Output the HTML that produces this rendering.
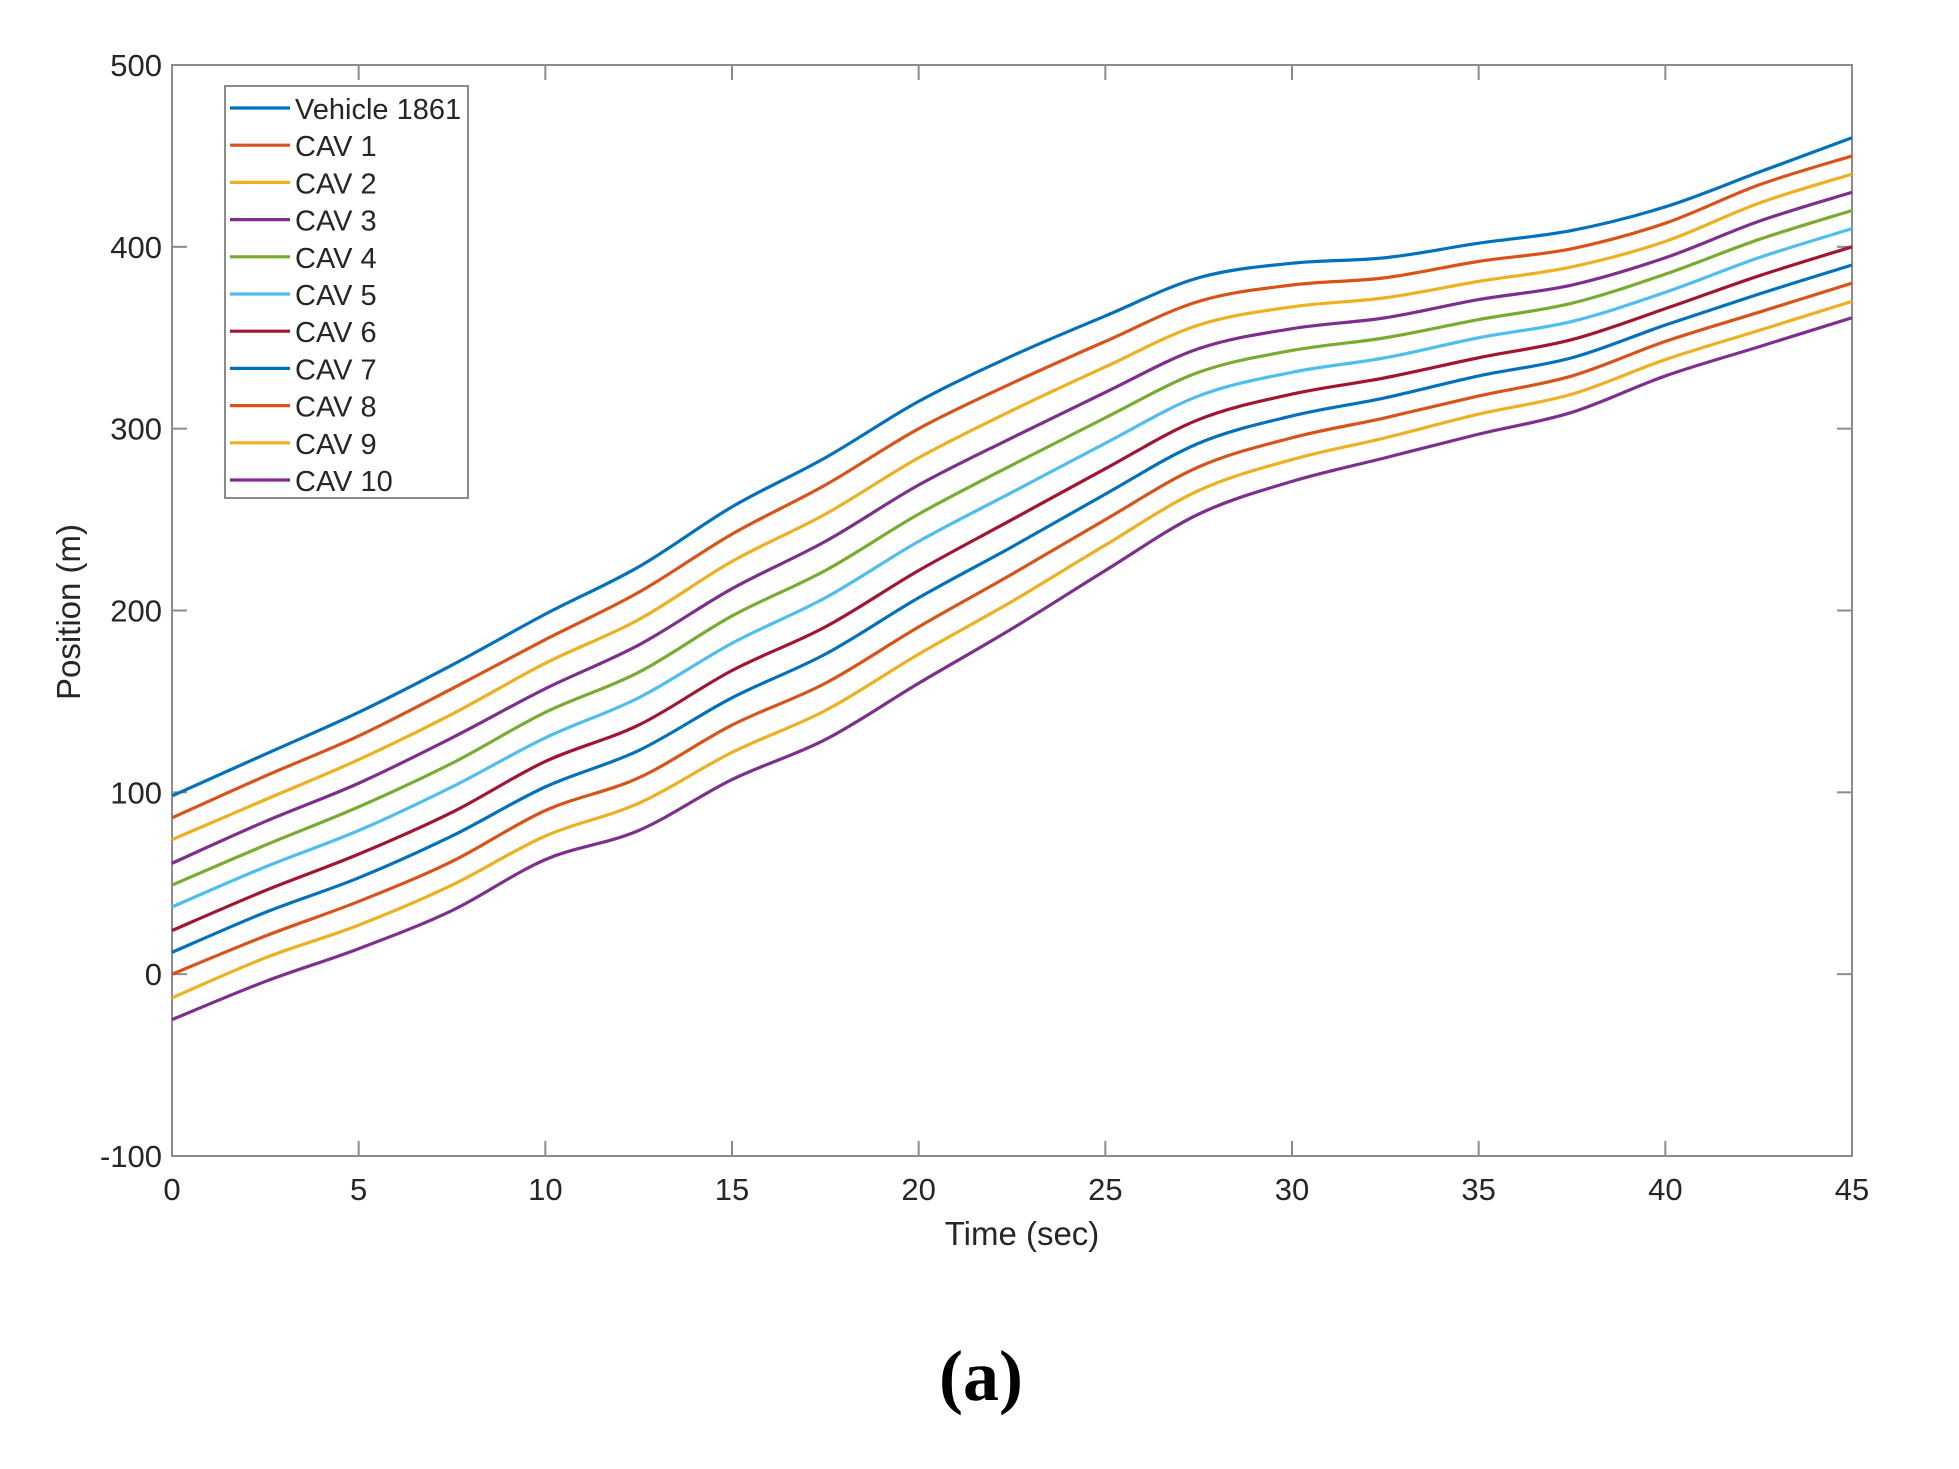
<!DOCTYPE html>
<html><head><meta charset="utf-8"><style>
body{margin:0;background:#fff;}
svg{display:block;font-family:"Liberation Sans",sans-serif;}
</style></head><body>
<svg id="chart" width="1959" height="1469" viewBox="0 0 1959 1469" xmlns="http://www.w3.org/2000/svg">
<rect x="0" y="0" width="1959" height="1469" fill="#fff"/>
<g id="grid"></g>
<g id="lines"></g>
<g id="legend"></g>
<text x="1022" y="1245" font-size="33" text-anchor="middle" fill="#262626">Time (sec)</text>
<text transform="translate(80,612) rotate(-90)" font-size="33" text-anchor="middle" fill="#262626">Position (m)</text>
<text x="981" y="1400" font-size="72" font-weight="bold" text-anchor="middle" font-family="Liberation Serif, serif" fill="#000">(a)</text>
</svg>
<script>
const times=[0,2.5,5,7.5,10,12.5,15,17.5,20,22.5,25,27.5,30,32.5,35,37.5,40,42.5,45];
const vehicle1861=[98,121,144,170,198,224,257,284,315,340,362,383,391,394,402,409,422,441,460];
const cav1=[86,109,131,157,184,210,242,269,300,325,348,370,379,383,392,399,413,434,450];
const cav2=[74,96,118,143,171,195,227,253,284,310,334,357,367,372,381,389,403,424,440];
const cav3=[61,84,105,130,157,181,212,238,269,295,320,344,355,361,371,379,394,414,430];
const cav4=[49,71,92,116,144,166,197,222,253,280,306,331,343,350,360,369,385,404,420];
const cav5=[37,59,79,103,130,152,182,207,238,265,292,318,331,339,350,359,375,394,410];
const cav6=[24,46,66,89,117,137,167,191,222,250,278,305,319,328,339,349,366,384,400];
const cav7=[12,34,53,76,103,123,152,176,207,235,264,292,307,317,329,339,357,374,390];
const cav8=[0,21,40,62,90,108,137,160,191,220,250,279,295,306,318,329,348,364,380];
const cav9=[-13,9,27,49,76,94,122,145,176,205,236,266,283,295,308,319,338,354,370];
const cav10=[-25,-4,14,35,63,79,107,129,160,190,222,253,271,284,297,309,329,345,361];
const seriesNames=["Vehicle 1861","CAV 1","CAV 2","CAV 3","CAV 4","CAV 5","CAV 6","CAV 7","CAV 8","CAV 9","CAV 10"];
const seriesData=[vehicle1861,cav1,cav2,cav3,cav4,cav5,cav6,cav7,cav8,cav9,cav10];
const xTicks=[0,5,10,15,20,25,30,35,40,45];
const yTicks=[-100,0,100,200,300,400,500];
const colors=["#0072BD","#D95319","#EDB120","#7E2F8E","#77AC30","#4DBEEE","#A2142F","#0072BD","#D95319","#EDB120","#7E2F8E"];
const L=172,R=1852,T=65,B=1156;
const xs=t=>L+(t-0)/45*(R-L);
const ys=v=>B-(v+100)/600*(B-T);
const NS="http://www.w3.org/2000/svg";
function mk(tag,attrs,parent){const e=document.createElementNS(NS,tag);for(const k in attrs)e.setAttribute(k,attrs[k]);parent.appendChild(e);return e;}
const grid=document.getElementById('grid');
const frame=mk('rect',{x:L,y:T,width:R-L,height:B-T,fill:'none',stroke:'#8c8c8c','stroke-width':2},grid);


xTicks.forEach(t=>{
  const x=xs(t);
  mk('line',{x1:x,y1:B,x2:x,y2:B-15,stroke:'#8c8c8c','stroke-width':2},grid);
  mk('line',{x1:x,y1:T,x2:x,y2:T+15,stroke:'#8c8c8c','stroke-width':2},grid);
  const tx=mk('text',{x:x,y:B+44,'font-size':31,'text-anchor':'middle',fill:'#262626'},grid);
  tx.textContent=t;
  
  
});
yTicks.forEach(v=>{
  const y=ys(v);
  mk('line',{x1:L,y1:y,x2:L+15,y2:y,stroke:'#8c8c8c','stroke-width':2},grid);
  mk('line',{x1:R,y1:y,x2:R-15,y2:y,stroke:'#8c8c8c','stroke-width':2},grid);
  const tx=mk('text',{x:L-10,y:y+11,'font-size':31,'text-anchor':'end',fill:'#262626'},grid);
  tx.textContent=v;
  
  
});
const lines=document.getElementById('lines');
seriesData.forEach((arr,i)=>{
  const pts=arr.map((v,j)=>[xs(times[j]),ys(v)]);
  let d='M'+pts[0][0]+','+pts[0][1];
  for(let j=0;j<pts.length-1;j++){
    const p0=pts[Math.max(0,j-1)],p1=pts[j],p2=pts[j+1],p3=pts[Math.min(pts.length-1,j+2)];
    const c1x=p1[0]+(p2[0]-p0[0])/6,c1y=p1[1]+(p2[1]-p0[1])/6;
    const c2x=p2[0]-(p3[0]-p1[0])/6,c2y=p2[1]-(p3[1]-p1[1])/6;
    d+=` C${c1x},${c1y} ${c2x},${c2y} ${p2[0]},${p2[1]}`;
  }
  const p=mk('path',{d:d,fill:'none',stroke:colors[i],'stroke-width':3.2},lines);
  
  
});
const lg=document.getElementById('legend');
const box=mk('rect',{x:225,y:86,width:243,height:412,fill:'#fff',stroke:'#8c8c8c','stroke-width':2},lg);


seriesNames.forEach((n,i)=>{
  const y=108+i*37.2;
  const ln=mk('line',{x1:230,y1:y,x2:290,y2:y,stroke:colors[i],'stroke-width':3.2},lg);
  
  
  const tx=mk('text',{x:295,y:y+11,'font-size':29,fill:'#262626'},lg);
  tx.textContent=n;
  
  
});
</script>
</body></html>
